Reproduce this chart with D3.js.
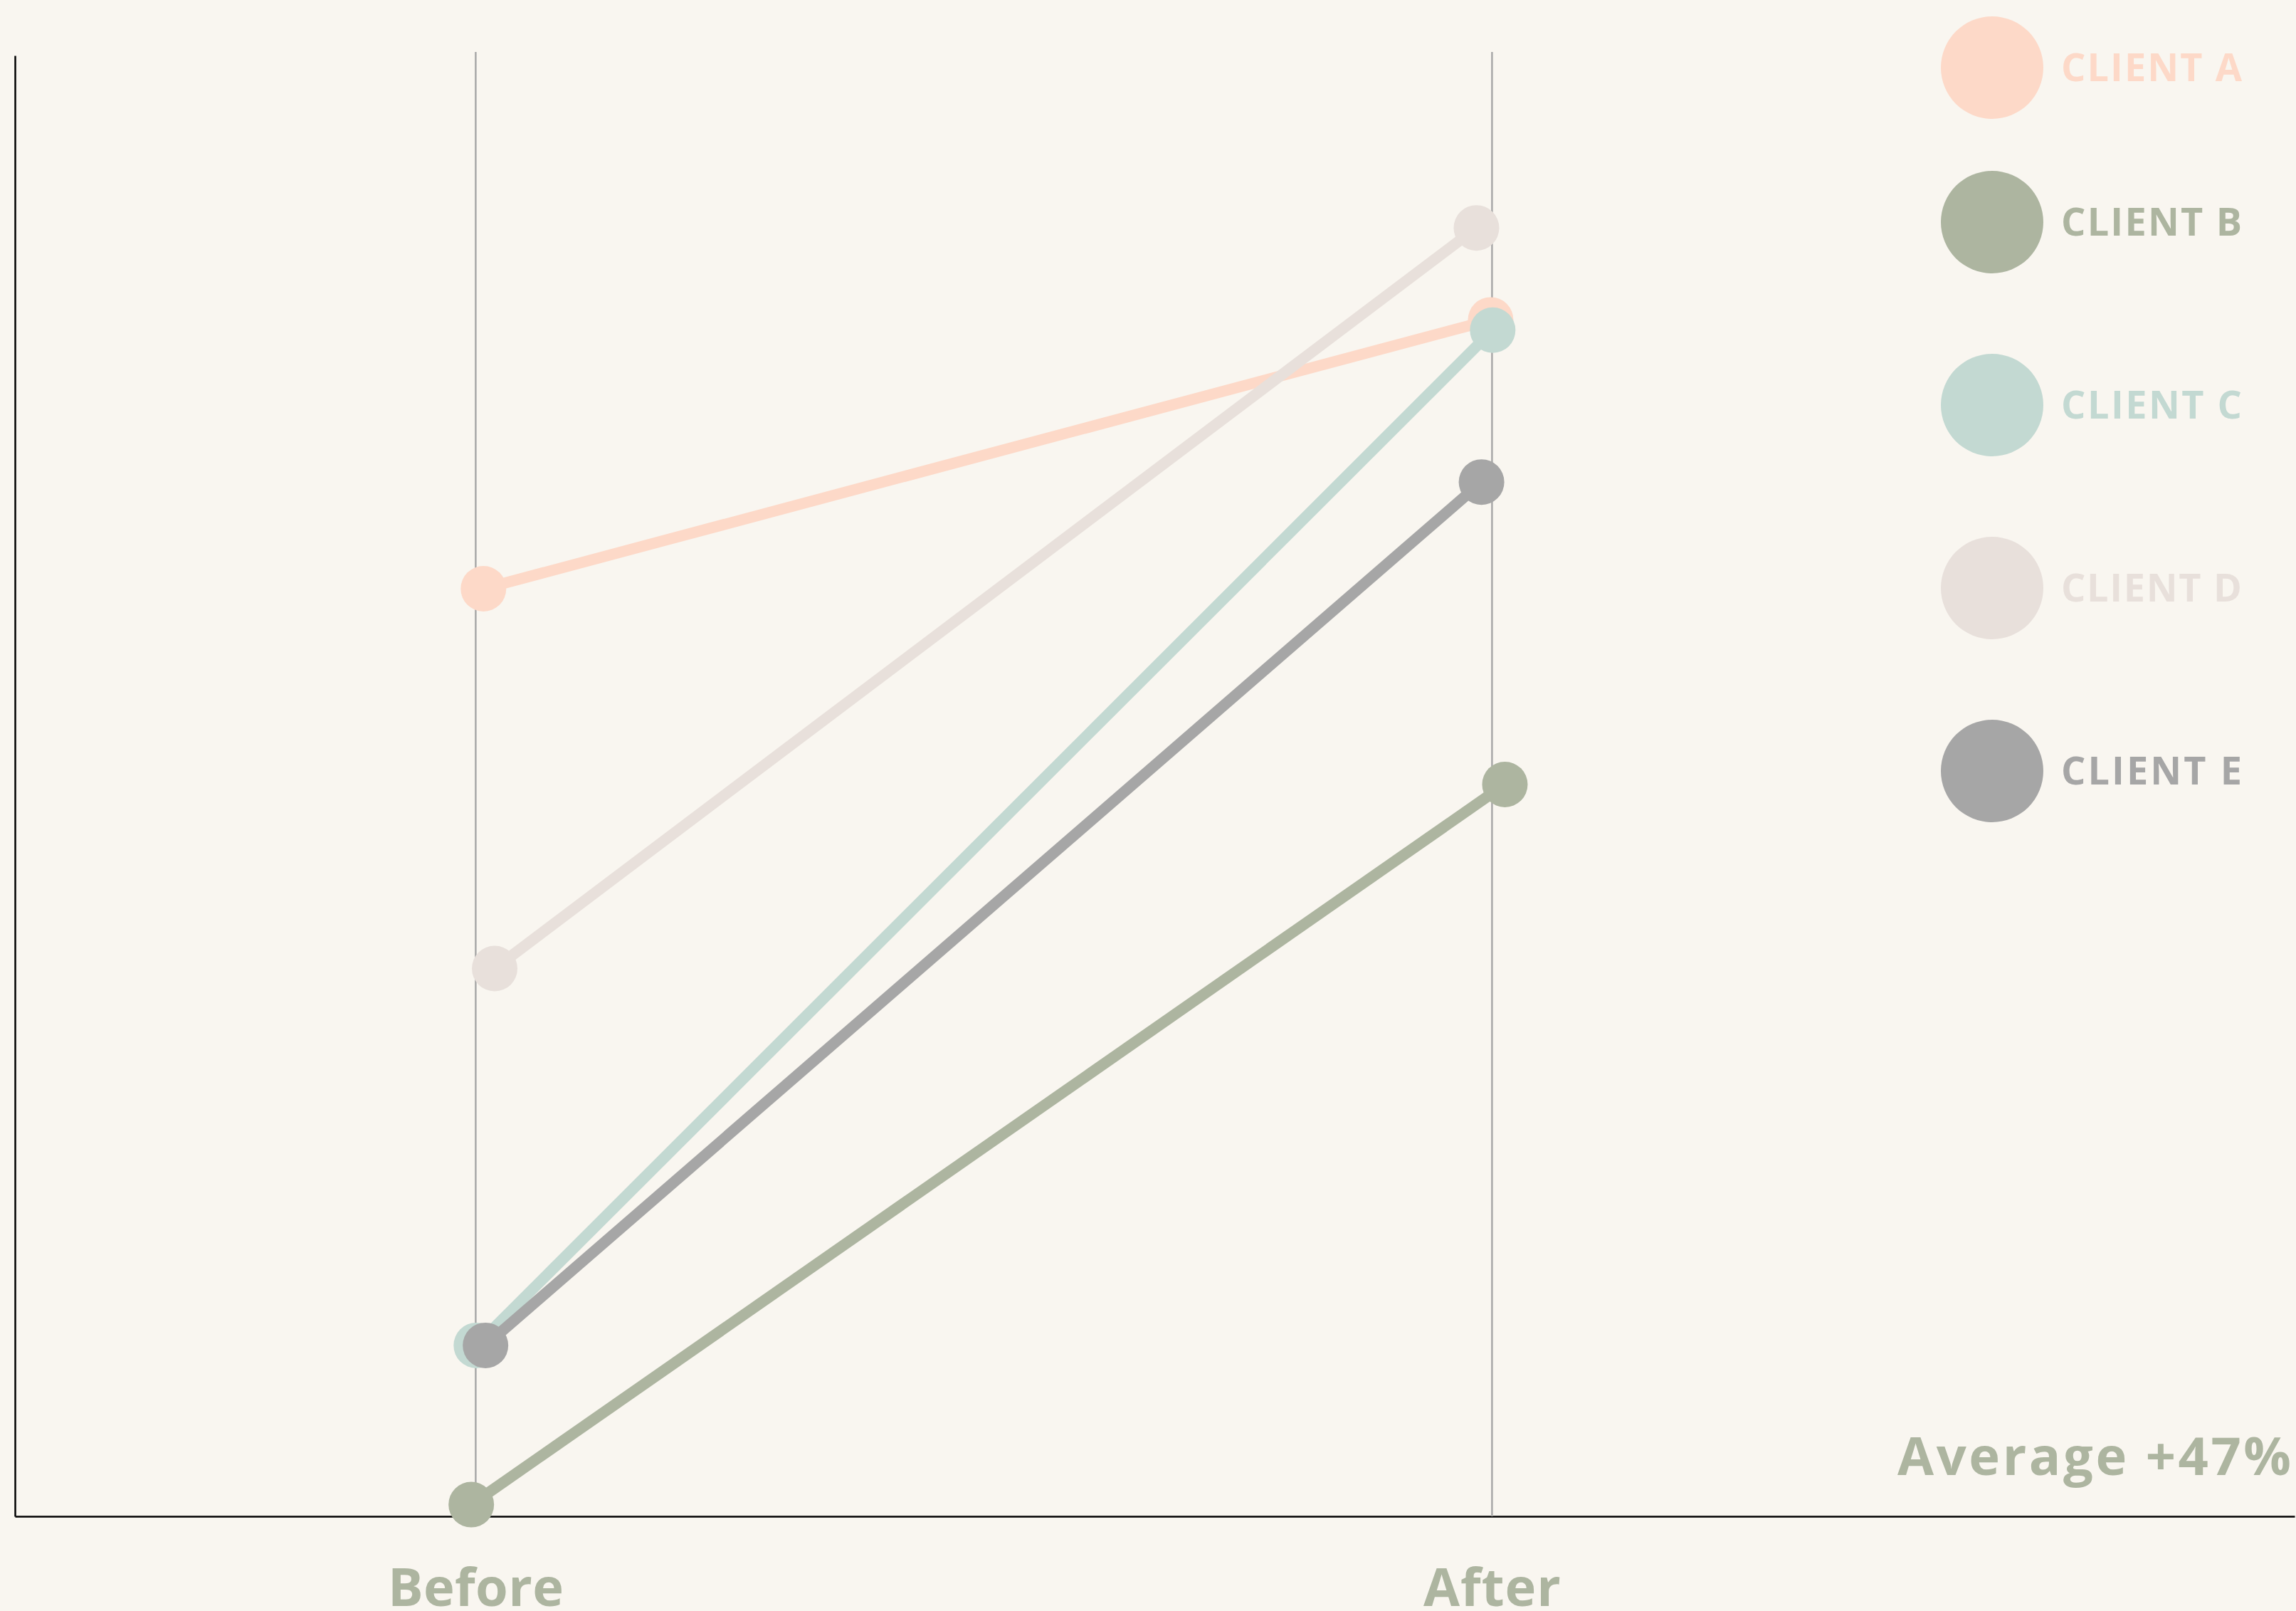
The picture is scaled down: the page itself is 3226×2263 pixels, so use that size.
<!DOCTYPE html>
<html>
<head>
<meta charset="utf-8">
<script src="https://cdn.jsdelivr.net/npm/d3@7"></script>
<style>
  body { margin: 0; background: #f9f6f0; }
  text { font-family: "Open Sans", Lato, sans-serif; font-weight: 700; }
</style>
</head>
<body>
<script>
// chart values
var clients = ["CLIENT A", "CLIENT B", "CLIENT C", "CLIENT D", "CLIENT E"];
var stages = ["Before", "After"];
var beforeValues = [63.5, 0.8, 11.7, 37.5, 11.7];
var afterValues = [81.9, 50.1, 81.2, 88.2, 70.8];
// small horizontal offsets of the dots around each stage (stage units)
var beforeX = [0.008, -0.004, 0.001, 0.019, 0.010];
var afterX = [0.999, 1.013, 1.001, 0.985, 0.990];
var colors = ["#fdd9c8", "#adb5a0", "#c3d9d2", "#e8e0db", "#a6a6a6"];
var averageLabel = "Average +47%";

var width = 3226, height = 2263;
var axisColor = "#adb5a0";

var svg = d3.select("body").append("svg")
    .attr("width", width)
    .attr("height", height);

svg.append("rect")
    .attr("width", width)
    .attr("height", height)
    .attr("fill", "#f9f6f0");

// x runs from the left axis to the right edge, Before = 0, After = 1
var xScale = d3.scaleLinear().domain([-0.453, 1.790]).range([21, 3224]);
var yScale = d3.scaleLinear().domain([0, 100]).range([2130, 78]);

var data = clients.map(function(c, i) {
    return {
        name: c,
        color: colors[i],
        points: [
            {x: beforeX[i], y: beforeValues[i]},
            {x: afterX[i], y: afterValues[i]}
        ]
    };
});

// x axis with stage gridlines
var xAxis = d3.axisBottom(xScale)
    .tickValues([0, 1])
    .tickFormat(function(d, i) { return stages[i]; })
    .tickSizeInner(-2057)
    .tickSizeOuter(0);

var gx = svg.append("g")
    .attr("class", "x axis")
    .attr("transform", "translate(0," + yScale(0) + ")")
    .call(xAxis);

gx.select(".domain")
    .attr("stroke", "#000")
    .attr("stroke-width", 2.5);

gx.selectAll(".tick line")
    .attr("stroke", "#a8a8a8")
    .attr("stroke-width", 2.5);

gx.selectAll(".tick text")
    .attr("y", 126)
    .attr("dy", 0)
    .attr("fill", axisColor)
    .style("font-size", "74px")
    .attr("textLength", function(d) { return d == 0 ? 247 : 193; })
    .attr("lengthAdjust", "spacing");

// y axis, just the line
var yAxis = d3.axisLeft(yScale).ticks(0).tickSizeOuter(0);
svg.append("g")
    .attr("class", "y axis")
    .attr("transform", "translate(21,0)")
    .call(yAxis)
    .select(".domain")
    .attr("stroke", "#000")
    .attr("stroke-width", 2.5);

var line = d3.line()
    .x(function(d) { return xScale(d.x); })
    .y(function(d) { return yScale(d.y); });

// slope lines
svg.selectAll(".slope")
    .data(data)
  .enter().append("path")
    .attr("class", "slope")
    .attr("d", function(d) { return line(d.points); })
    .attr("fill", "none")
    .attr("stroke", function(d) { return d.color; })
    .attr("stroke-width", 15.5);

// dots
var dotGroups = svg.selectAll(".dots")
    .data(data)
  .enter().append("g")
    .attr("class", "dots");

dotGroups.selectAll("circle")
    .data(function(d) { return d.points.map(function(p) { return {x: p.x, y: p.y, color: d.color}; }); })
  .enter().append("circle")
    .attr("cx", function(d) { return xScale(d.x); })
    .attr("cy", function(d) { return yScale(d.y); })
    .attr("r", 32)
    .attr("fill", function(d) { return d.color; });

// legend
var legendY = function(i) { return i === 0 ? 95 : 312 + (i - 1) * 257; };

var legend = svg.selectAll(".legend")
    .data(data)
  .enter().append("g")
    .attr("class", "legend")
    .attr("transform", function(d, i) { return "translate(2799," + legendY(i) + ")"; });

legend.append("circle")
    .attr("r", 72)
    .attr("fill", function(d) { return d.color; });

legend.append("text")
    .attr("x", 97)
    .attr("y", 19)
    .attr("fill", function(d) { return d.color; })
    .style("font-size", "54px")
    .attr("textLength", 254)
    .attr("lengthAdjust", "spacing")
    .text(function(d) { return d.name; });

// average note
svg.append("text")
    .attr("x", 3219)
    .attr("y", 2072)
    .attr("text-anchor", "end")
    .attr("fill", axisColor)
    .style("font-size", "74px")
    .attr("textLength", 553)
    .attr("lengthAdjust", "spacing")
    .text(averageLabel);
</script>
</body>
</html>
